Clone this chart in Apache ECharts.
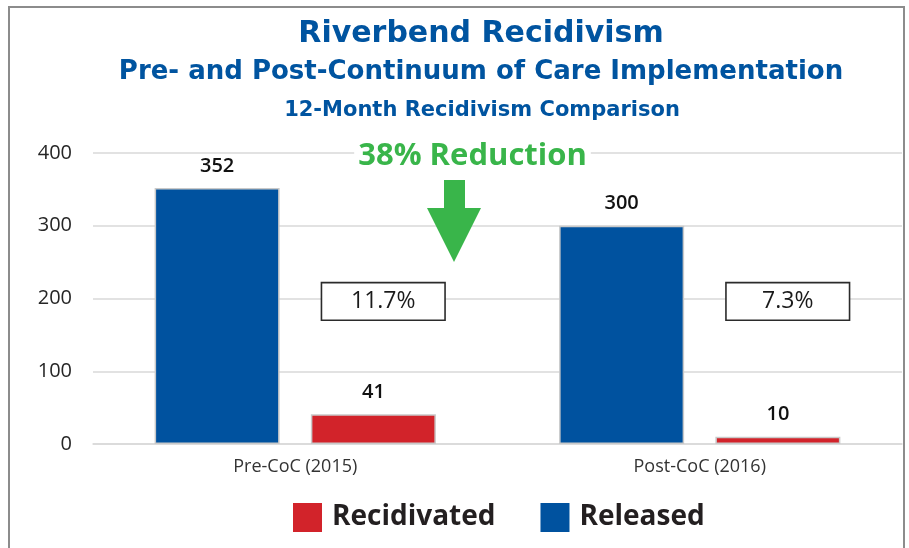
<!DOCTYPE html>
<html>
<head>
<meta charset="utf-8">
<script src="https://cdn.jsdelivr.net/npm/echarts@6/dist/echarts.min.js"></script>
<style>
  html, body { margin: 0; padding: 0; background: #fff; }
  #chart { width: 909px; height: 548px; }
</style>
</head>
<body>
<div id="chart"></div>
<script>
// 数据
const categories = ['Pre-CoC (2015)', 'Post-CoC (2016)']
const released = [352, 300]
const recidivated = [41, 10]
const rateLabels = ['11.7%', '7.3%']
const ratePos = 196 // 百分比方框所在的 y 值
const yMin = 0
const yMax = 400
const yStep = 100

const blue = '#00529F'
const red = '#D2232A'
const green = '#39B54A'
const titleBlue = '#0054A0'

const chart = echarts.init(document.getElementById('chart'))

const option = {
  animation: false,
  backgroundColor: '#fff',
  title: [
    {
      text: 'Riverbend Recidivism',
      left: 481, top: 19.5, padding: 0, textAlign: 'center',
      textStyle: { fontFamily: 'DejaVu Sans', fontWeight: 'bold', fontSize: 30, color: titleBlue }
    },
    {
      text: 'Pre- and Post-Continuum of Care Implementation',
      left: 481, top: 59.5, padding: 0, textAlign: 'center',
      textStyle: { fontFamily: 'DejaVu Sans', fontWeight: 'bold', fontSize: 26, color: titleBlue }
    },
    {
      text: '12-Month Recidivism Comparison',
      left: 482, top: 100, padding: 0, textAlign: 'center',
      textStyle: { fontFamily: 'DejaVu Sans', fontWeight: 'bold', fontSize: 21, color: titleBlue }
    }
  ],
  legend: {
    data: ['Recidivated', 'Released'],
    left: 293, top: 503, padding: 0,
    icon: 'rect', itemWidth: 29, itemHeight: 29, itemGap: 45,
    itemStyle: { borderWidth: 0 },
    textStyle: {
      fontFamily: 'Open Sans', fontWeight: 'bold', fontSize: 28, color: '#231F20',
      padding: [0, 0, 0, 5]
    }
  },
  grid: { left: 93, right: 7, top: 153, bottom: 104 },
  xAxis: {
    type: 'category',
    data: categories,
    axisLine: { lineStyle: { color: '#d9d9d9', width: 1.5 } },
    axisTick: { show: false },
    axisLabel: { fontFamily: 'Open Sans', fontSize: 18, color: '#333', margin: 14 }
  },
  yAxis: {
    type: 'value',
    min: yMin, max: yMax, interval: yStep,
    axisLine: { show: false },
    axisTick: { show: false },
    splitLine: { lineStyle: { color: '#d9d9d9', width: 1.5 } },
    axisLabel: { fontFamily: 'Open Sans', fontSize: 20, color: '#262626', margin: 21 }
  },
  series: [
    {
      name: 'Released',
      type: 'bar',
      data: released,
      barWidth: 125,
      barGap: '25%',
      itemStyle: { color: blue, borderColor: '#c9c9c9', borderWidth: 1.5 },
      label: {
        show: true, position: 'top', distance: 12,
        fontFamily: 'Open Sans', fontWeight: 600, fontSize: 20, color: '#111'
      }
    },
    {
      name: 'Recidivated',
      type: 'bar',
      data: recidivated,
      barWidth: 125,
      barGap: '25%',
      itemStyle: { color: red, borderColor: '#c9c9c9', borderWidth: 1.5 },
      label: {
        show: true, position: 'top', distance: 12,
        fontFamily: 'Open Sans', fontWeight: 600, fontSize: 20, color: '#111'
      }
    },
    {
      // 复发率方框
      name: 'Rate',
      type: 'scatter',
      data: categories.map((c, i) => [i, ratePos]),
      symbol: 'circle',
      symbolSize: 1,
      silent: true,
      z: 5,
      itemStyle: { color: 'rgba(0,0,0,0)', opacity: 1 },
      label: {
        show: true, position: 'inside', offset: [88, 0],
        formatter: p => rateLabels[p.dataIndex],
        fontFamily: 'Open Sans', fontSize: 23, color: '#1a1a1a',
        width: 122, height: 36, lineHeight: 36, align: 'center', verticalAlign: 'middle',
        backgroundColor: '#fff', borderColor: '#2b2b2b', borderWidth: 1.6, padding: 0
      }
    }
  ],
  graphic: [
    {
      type: 'rect', z: -10, silent: true,
      shape: { x: 9, y: 7, width: 895, height: 600 },
      style: { fill: 'none', stroke: '#8c8c8c', lineWidth: 2 }
    },
    {
      type: 'text', z: 100, silent: true,
      x: 472.5, y: 156,
      style: {
        text: '38% Reduction',
        fontFamily: 'Open Sans', fontWeight: 'bold', fontSize: 31,
        fill: green, align: 'center', verticalAlign: 'middle',
        backgroundColor: '#fff', padding: [0, 4]
      }
    },
    {
      // 向下箭头
      type: 'polygon', z: 100, silent: true,
      shape: { points: [[444, 180], [465, 180], [465, 208], [481, 208], [454, 262], [427, 208], [444, 208]] },
      style: { fill: green }
    }
  ]
}

chart.setOption(option)
</script>
</body>
</html>
